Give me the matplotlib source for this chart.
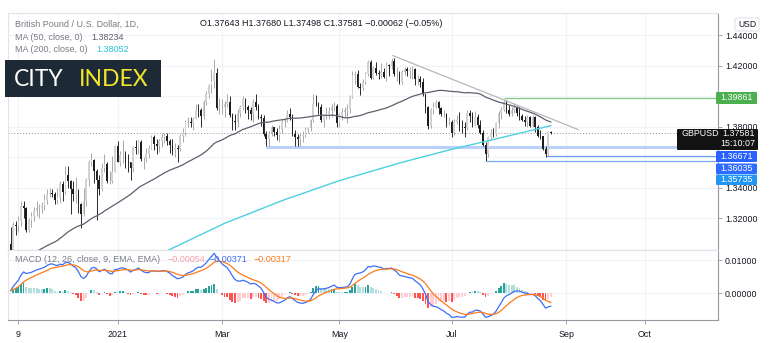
import matplotlib.pyplot as plt
import numpy as np
import pandas as pd
from matplotlib.patches import Rectangle, FancyBboxPatch

plt.rcParams['font.family'] = ['Liberation Sans', 'DejaVu Sans']

# GBP/USD daily candles, 4 Nov 2020 - 24 Aug 2021 (one row per month)
opens = [
    1.3030, 1.2990, 1.3152, 1.3150, 1.3180, 1.3280, 1.3265, 1.3120, 1.3190, 1.3210, 1.3245, 1.3265, 1.3270, 1.3285, 1.3315, 1.3360, 1.3365, 1.3355, 1.3315,
    1.3340, 1.3420, 1.3370, 1.3480, 1.3440, 1.3390, 1.3360, 1.3380, 1.3290, 1.3225, 1.3310, 1.3450, 1.3570, 1.3580, 1.3510, 1.3450, 1.3390, 1.3530, 1.3555, 1.3440, 1.3440, 1.3500,
    1.3670, 1.3570, 1.3610, 1.3610, 1.3570, 1.3565, 1.3525, 1.3665, 1.3660, 1.3700, 1.3585, 1.3590, 1.3620, 1.3660, 1.3730, 1.3685, 1.3675, 1.3705, 1.3730, 1.3735,
    1.3705, 1.3680, 1.3645, 1.3660, 1.3655, 1.3735, 1.3760, 1.3830, 1.3830, 1.3820, 1.3850, 1.3910, 1.3905, 1.3870, 1.3960, 1.4010, 1.4070, 1.4100, 1.4150, 1.3920,
    1.3925, 1.3930, 1.3950, 1.3960, 1.3875, 1.3835, 1.3830, 1.3890, 1.3930, 1.3980, 1.3925, 1.3910, 1.3885, 1.3960, 1.3930, 1.3865, 1.3855, 1.3750, 1.3720, 1.3760, 1.3795, 1.3765, 1.3745,
    1.3785, 1.3830, 1.3835, 1.3880, 1.3865, 1.3750, 1.3730, 1.3715, 1.3740, 1.3745, 1.3780, 1.3790, 1.3840, 1.3950, 1.3945, 1.3930, 1.3840, 1.3875, 1.3880, 1.3900, 1.3930, 1.3935,
    1.3820, 1.3875, 1.3895, 1.3905, 1.3915, 1.3995, 1.4140, 1.4145, 1.4060, 1.4055, 1.4095, 1.4145, 1.4220, 1.4120, 1.4185, 1.4150, 1.4145, 1.4160, 1.4125, 1.4205, 1.4195,
    1.4230, 1.4145, 1.4145, 1.4090, 1.4160, 1.4175, 1.4165, 1.4175, 1.4180, 1.4110, 1.4110, 1.4095, 1.4010, 1.3930, 1.3805, 1.3910, 1.3930, 1.3960, 1.3920, 1.3880, 1.3880, 1.3825,
    1.3830, 1.3760, 1.3830, 1.3845, 1.3800, 1.3795, 1.3790, 1.3890, 1.3870, 1.3810, 1.3860, 1.3810, 1.3760, 1.3680, 1.3620, 1.3730, 1.3760, 1.3750, 1.3820, 1.3890, 1.3910, 1.3960,
    1.3905, 1.3885, 1.3905, 1.3925, 1.3890, 1.3870, 1.3845, 1.3830, 1.3865, 1.3805, 1.3865, 1.3795, 1.3740, 1.3735, 1.3650, 1.3620, 1.37643,
]
highs = [
    1.3140, 1.3176, 1.3178, 1.3210, 1.3312, 1.3310, 1.3275, 1.3203, 1.3240, 1.3275, 1.3310, 1.3290, 1.3305, 1.3360, 1.3390, 1.3398, 1.3388, 1.3370, 1.3399,
    1.3443, 1.3440, 1.3540, 1.3540, 1.3450, 1.3440, 1.3470, 1.3390, 1.3300, 1.3400, 1.3460, 1.3580, 1.3625, 1.3590, 1.3520, 1.3480, 1.3560, 1.3620, 1.3565, 1.3510, 1.3605, 1.3680,
    1.3703, 1.3640, 1.3710, 1.3640, 1.3620, 1.3570, 1.3675, 1.3710, 1.3710, 1.3710, 1.3600, 1.3660, 1.3680, 1.3745, 1.3745, 1.3720, 1.3720, 1.3760, 1.3755, 1.3755,
    1.3715, 1.3715, 1.3695, 1.3680, 1.3750, 1.3790, 1.3840, 1.3860, 1.3865, 1.3860, 1.3950, 1.3950, 1.3920, 1.3975, 1.4035, 1.4080, 1.4180, 1.4241, 1.4185, 1.3990,
    1.3980, 1.3970, 1.4015, 1.4000, 1.3890, 1.3880, 1.3915, 1.3940, 1.4000, 1.3985, 1.3940, 1.3925, 1.3980, 1.4010, 1.3950, 1.3880, 1.3875, 1.3770, 1.3770, 1.3810, 1.3800, 1.3790, 1.3810,
    1.3850, 1.3850, 1.3910, 1.3920, 1.3885, 1.3780, 1.3750, 1.3760, 1.3770, 1.3800, 1.3800, 1.3850, 1.4010, 1.4005, 1.3960, 1.3950, 1.3880, 1.3925, 1.3925, 1.3950, 1.3960, 1.3945,
    1.3890, 1.3920, 1.3925, 1.3950, 1.4005, 1.4165, 1.4165, 1.4170, 1.4085, 1.4110, 1.4160, 1.4235, 1.4235, 1.4200, 1.4220, 1.4170, 1.4215, 1.4185, 1.4220, 1.4210, 1.4250,
    1.4250, 1.4190, 1.4165, 1.4170, 1.4190, 1.4190, 1.4190, 1.4200, 1.4185, 1.4135, 1.4130, 1.4120, 1.4015, 1.3935, 1.3920, 1.3960, 1.3975, 1.3970, 1.3925, 1.3910, 1.3890, 1.3860,
    1.3840, 1.3850, 1.3875, 1.3895, 1.3840, 1.3830, 1.3910, 1.3905, 1.3895, 1.3900, 1.3880, 1.3840, 1.3780, 1.3700, 1.3740, 1.3785, 1.3790, 1.3830, 1.3900, 1.3925, 1.3983, 1.3975,
    1.3940, 1.3925, 1.3955, 1.3935, 1.3930, 1.3880, 1.3870, 1.3875, 1.3870, 1.3875, 1.3870, 1.3810, 1.3775, 1.3740, 1.3675, 1.3770, 1.37680,
]
lows = [
    1.2915, 1.2980, 1.3090, 1.3110, 1.3150, 1.3200, 1.3105, 1.3110, 1.3140, 1.3180, 1.3215, 1.3200, 1.3235, 1.3250, 1.3290, 1.3335, 1.3340, 1.3290, 1.3290,
    1.3300, 1.3310, 1.3360, 1.3400, 1.3225, 1.3310, 1.3300, 1.3230, 1.3135, 1.3210, 1.3280, 1.3410, 1.3540, 1.3430, 1.3188, 1.3350, 1.3375, 1.3500, 1.3430, 1.3420, 1.3430, 1.3500,
    1.3568, 1.3540, 1.3560, 1.3530, 1.3500, 1.3450, 1.3500, 1.3620, 1.3620, 1.3575, 1.3520, 1.3570, 1.3595, 1.3650, 1.3645, 1.3620, 1.3635, 1.3665, 1.3690, 1.3680,
    1.3625, 1.3610, 1.3600, 1.3566, 1.3640, 1.3700, 1.3740, 1.3795, 1.3800, 1.3780, 1.3850, 1.3860, 1.3800, 1.3850, 1.3940, 1.3990, 1.4020, 1.4050, 1.3910, 1.3880,
    1.3880, 1.3860, 1.3925, 1.3860, 1.3775, 1.3780, 1.3800, 1.3860, 1.3910, 1.3890, 1.3850, 1.3845, 1.3830, 1.3905, 1.3850, 1.3805, 1.3740, 1.3670, 1.3670, 1.3740, 1.3740, 1.3710, 1.3700,
    1.3760, 1.3800, 1.3830, 1.3840, 1.3740, 1.3670, 1.3670, 1.3670, 1.3700, 1.3730, 1.3760, 1.3770, 1.3830, 1.3935, 1.3885, 1.3830, 1.3800, 1.3850, 1.3850, 1.3860, 1.3900, 1.3800,
    1.3800, 1.3840, 1.3860, 1.3820, 1.3890, 1.3985, 1.4080, 1.4050, 1.4005, 1.4040, 1.4080, 1.4130, 1.4110, 1.4110, 1.4135, 1.4110, 1.4120, 1.4115, 1.4100, 1.4130, 1.4175,
    1.4130, 1.4100, 1.4080, 1.4080, 1.4140, 1.4130, 1.4120, 1.4110, 1.4075, 1.4070, 1.4060, 1.4000, 1.3890, 1.3785, 1.3790, 1.3880, 1.3920, 1.3880, 1.3870, 1.3860, 1.3800, 1.3810,
    1.3730, 1.3745, 1.3815, 1.3770, 1.3755, 1.3730, 1.3780, 1.3830, 1.3800, 1.3805, 1.3790, 1.3750, 1.3670, 1.3572, 1.3600, 1.3710, 1.3730, 1.3740, 1.3790, 1.3850, 1.3900, 1.3890,
    1.3870, 1.3870, 1.3890, 1.3870, 1.3840, 1.3835, 1.3805, 1.3800, 1.3800, 1.3795, 1.3765, 1.3730, 1.3720, 1.3645, 1.3603, 1.3610, 1.37498,
]
closes = [
    1.2990, 1.3152, 1.3150, 1.3180, 1.3280, 1.3265, 1.3120, 1.3190, 1.3210, 1.3245, 1.3265, 1.3270, 1.3285, 1.3315, 1.3360, 1.3365, 1.3355, 1.3315, 1.3340,
    1.3420, 1.3370, 1.3480, 1.3440, 1.3390, 1.3360, 1.3380, 1.3290, 1.3225, 1.3310, 1.3450, 1.3570, 1.3580, 1.3510, 1.3450, 1.3390, 1.3530, 1.3555, 1.3440, 1.3440, 1.3500, 1.3670,
    1.3570, 1.3610, 1.3610, 1.3570, 1.3565, 1.3525, 1.3665, 1.3660, 1.3700, 1.3585, 1.3590, 1.3620, 1.3660, 1.3730, 1.3685, 1.3675, 1.3705, 1.3730, 1.3735, 1.3705,
    1.3680, 1.3645, 1.3660, 1.3655, 1.3735, 1.3760, 1.3830, 1.3830, 1.3820, 1.3850, 1.3910, 1.3905, 1.3870, 1.3960, 1.4010, 1.4070, 1.4100, 1.4150, 1.3920, 1.3925,
    1.3930, 1.3950, 1.3960, 1.3875, 1.3835, 1.3830, 1.3890, 1.3930, 1.3980, 1.3925, 1.3910, 1.3885, 1.3960, 1.3930, 1.3865, 1.3855, 1.3750, 1.3720, 1.3760, 1.3795, 1.3765, 1.3745, 1.3785,
    1.3830, 1.3835, 1.3880, 1.3865, 1.3750, 1.3730, 1.3715, 1.3740, 1.3745, 1.3780, 1.3790, 1.3840, 1.3950, 1.3945, 1.3930, 1.3840, 1.3875, 1.3880, 1.3900, 1.3930, 1.3935, 1.3820,
    1.3875, 1.3895, 1.3905, 1.3915, 1.3995, 1.4140, 1.4145, 1.4060, 1.4055, 1.4095, 1.4145, 1.4220, 1.4120, 1.4185, 1.4150, 1.4145, 1.4160, 1.4125, 1.4205, 1.4195, 1.4230,
    1.4145, 1.4145, 1.4090, 1.4160, 1.4175, 1.4165, 1.4175, 1.4180, 1.4110, 1.4110, 1.4095, 1.4010, 1.3930, 1.3805, 1.3910, 1.3930, 1.3960, 1.3920, 1.3880, 1.3880, 1.3825, 1.3830,
    1.3760, 1.3830, 1.3845, 1.3800, 1.3795, 1.3790, 1.3890, 1.3870, 1.3810, 1.3860, 1.3810, 1.3760, 1.3680, 1.3620, 1.3730, 1.3760, 1.3750, 1.3820, 1.3890, 1.3910, 1.3960, 1.3905,
    1.3885, 1.3905, 1.3925, 1.3890, 1.3870, 1.3845, 1.3830, 1.3865, 1.3805, 1.3865, 1.3795, 1.3740, 1.3735, 1.3650, 1.3620, 1.37643, 1.37581,
]

# closes from 24 Aug to 3 Nov 2020, only used to warm up MA(50) and the MACD
warmup_closes = [
    1.3090, 1.3160, 1.3210, 1.3225, 1.3350, 1.3370,
    1.3385, 1.3315, 1.3265, 1.3280, 1.3160, 1.2985, 1.2995, 1.2795, 1.2795, 1.2845, 1.2900,
    1.2935, 1.2960, 1.2920, 1.2815, 1.2735, 1.2735, 1.2750, 1.2745, 1.2830, 1.2835, 1.2920,
    1.2880, 1.2945, 1.2970, 1.2880, 1.2940, 1.2945, 1.3050, 1.3045, 1.2925, 1.3030, 1.2915,
    1.2915, 1.2950, 1.2945, 1.3125, 1.3080, 1.3040, 1.3030, 1.3050, 1.2970, 1.2930, 1.2945,
    1.2935, 1.3030,
]

# MA(200) at a few sessions (bar number, value)
ma200_bar = [60, 82, 105, 126, 150, 169, 190, 207]
ma200_val = [1.2985, 1.3165, 1.3320, 1.3445, 1.3565, 1.3650, 1.3735, 1.38052]

# drawn levels: (value, first bar)
support_levels = [(1.36671, 98), (1.36035, 205), (1.35735, 182)]
resistance_level = (1.39861, 189)
trend_bars = [146.5, 217.5]
trend_vals = [1.4265, 1.3780]

# date axis: bar number of each label (the last two fall in the empty space on the right)
tick_bars = [3, 41, 81, 126, 169, 213, 243]
tick_labels = ['9', '2021', 'Mar', 'May', 'Jul', 'Sep', 'Oct']
price_ticks = [1.32, 1.34, 1.36, 1.38, 1.40, 1.42, 1.44]
hidden_price_labels = [1.36, 1.40]  # sit under the level tags

o = np.array(opens)
h = np.array(highs)
l = np.array(lows)
c = np.array(closes)
n = len(c)
bars = np.arange(n)

full = pd.Series(warmup_closes + closes)
ma50 = full.rolling(50).mean().to_numpy()[len(warmup_closes):]
ema12 = full.ewm(span=12, adjust=False).mean()
ema26 = full.ewm(span=26, adjust=False).mean()
macd_full = ema12 - ema26
signal_full = macd_full.ewm(span=9, adjust=False).mean()
macd = macd_full.to_numpy()[len(warmup_closes):]
signal = signal_full.to_numpy()[len(warmup_closes):]
hist = macd - signal

W, H = 771, 343
fig = plt.figure(figsize=(W / 100, H / 100), dpi=100)
fig.patch.set_facecolor('white')


def fx(x):
    return x / W


def fy(y):
    return 1 - y / H


px0, step = 10.5, 2.61  # pixel of bar 0, pixels per bar
x_lo = (8 - px0) / step
x_hi = (718 - px0) / step

ax = fig.add_axes([fx(8), fy(250), fx(718) - fx(8), (250 - 13) / H])
mx = fig.add_axes([fx(8), fy(320), fx(718) - fx(8), (320 - 250) / H])

grid_c = '#f0f3fa'
for a in (ax, mx):
    a.set_xlim(x_lo, x_hi)
    a.set_facecolor('white')
    for xt in tick_bars:
        a.axvline(xt, color=grid_c, lw=0.8, zorder=0)
    a.spines['left'].set_color('#e0e3eb')
    a.spines['top'].set_color('#e0e3eb')
    a.spines['right'].set_color('#9598a1')
    a.spines['bottom'].set_color('#9598a1')
    for s in a.spines.values():
        s.set_linewidth(0.8)
    a.yaxis.tick_right()
    a.tick_params(axis='y', length=3, width=0.6, color='#9598a1', labelsize=6.4,
                  labelcolor='#131722', pad=2)

# price pane
ax.set_ylim(1.44 - (250 - 35) / 1525, 1.44 + (35 - 13) / 1525)
for p in price_ticks:
    ax.axhline(p, color=grid_c, lw=0.8, zorder=0)
ax.set_yticks(price_ticks)
ax.set_yticklabels(['' if p in hidden_price_labels else f'{p:.5f}' for p in price_ticks])
ax.set_xticks([])

up = c >= o
body_lo = np.minimum(o, c)
body_h = np.maximum(np.abs(c - o), 0.00015)
ax.vlines(bars[up], l[up], h[up], color='#a9a9a9', lw=0.7, zorder=3)
ax.vlines(bars[~up], l[~up], h[~up], color='#2a2a2a', lw=0.7, zorder=3)
ax.bar(bars, body_h, bottom=body_lo, width=0.62,
       color=np.where(up, '#d2d2d2', '#1c1c1c'), lw=0, zorder=4)

ax.plot(bars, ma50, color='#5d606b', lw=0.9, zorder=5)
ax.plot(ma200_bar, ma200_val, color='#4dd0e1', lw=1.0, zorder=5)
ax.plot(trend_bars, trend_vals, color='#b7b7b7', lw=0.9, zorder=5)

ax.hlines(resistance_level[0], resistance_level[1], x_hi, color='#81c784', lw=0.9, zorder=2)
sup_styles = [('#b9d0fb', 2.2), ('#6f9cf6', 0.9), ('#7aa8f5', 0.9)]
for (lvl, start), (col, lw) in zip(support_levels, sup_styles):
    ax.hlines(lvl, start, x_hi, color=col, lw=lw, zorder=2)
ax.axhline(closes[-1], color='#8a8e97', lw=0.7, ls=(0, (1, 2)), zorder=2)

# MACD pane
mx.set_ylim(-(320 - 293.3) / 3330, 0.01 + (260 - 250) / 3330)
mx.axhline(0.0, color=grid_c, lw=0.8, zorder=0)
mx.axhline(0.01, color=grid_c, lw=0.8, zorder=0)
mx.set_yticks([0.0, 0.01])
mx.set_yticklabels(['0.00000', '0.01000'])
prev = np.concatenate([[hist[0]], hist[:-1]])
hist_col = np.where(hist >= 0,
                    np.where(hist >= prev, '#26a69a', '#b2dfdb'),
                    np.where(hist < prev, '#ff5252', '#ffcdd2'))
mx.bar(bars, hist, width=0.72, color=hist_col, lw=0, zorder=2)
mx.plot(bars, macd, color='#3d6ef5', lw=0.9, zorder=3)
mx.plot(bars, signal, color='#ff7a1a', lw=0.9, zorder=3)
mx.set_xticks(tick_bars)
mx.set_xticklabels(tick_labels)
mx.tick_params(axis='x', length=3, width=0.6, color='#9598a1', labelsize=6.4,
               labelcolor='#131722', pad=4)

# legend lines
grey = '#787b86'
dark = '#131722'
fs = 6.5
fig.text(fx(15), fy(24), 'British Pound / U.S. Dollar, 1D,', fontsize=fs, color=grey, va='center')
fig.text(fx(200), fy(24), 'O1.37643 H1.37680 L1.37498 C1.37581 \u22120.00062 (\u22120.05%)',
         fontsize=fs, color=dark, va='center')
fig.text(fx(15), fy(37), 'MA (50, close, 0)', fontsize=fs, color=grey, va='center')
fig.text(fx(91), fy(37), '1.38234', fontsize=fs, color='#5d606b', va='center')
fig.text(fx(15), fy(49), 'MA (200, close, 0)', fontsize=fs, color=grey, va='center')
fig.text(fx(96), fy(49), '1.38052', fontsize=fs, color='#26c6da', va='center')

fig.text(fx(15), fy(260), 'MACD (12, 26, close, 9, EMA, EMA)', fontsize=fs, color=grey, va='center')
fig.text(fx(167), fy(260), '\u22120.00054', fontsize=fs, color='#f7a1a8', va='center')
fig.text(fx(210), fy(260), '\u22120.00371', fontsize=fs, color='#3d6ef5', va='center')
fig.text(fx(253), fy(260), '\u22120.00317', fontsize=fs, color='#ff7a1a', va='center')

# logo
fig.patches.append(Rectangle((fx(5), fy(97)), (161 - 5) / W, (97 - 60) / H,
                             transform=fig.transFigure, facecolor='#1d2a36', edgecolor='none', zorder=10))
fig.text(fx(14), fy(79), 'CITY', fontsize=16.5, color='white',
         family=['Lato', 'DejaVu Sans'], va='center', zorder=11)
fig.text(fx(79), fy(79), 'INDEX', fontsize=16.5, color='#f2e52b',
         family=['Lato', 'DejaVu Sans'], va='center', zorder=11)


# right-axis labels
def tag(x0, x1, y0, y1, color, radius=0.002):
    fig.patches.append(FancyBboxPatch((fx(x0), fy(y1)), (x1 - x0) / W, (y1 - y0) / H,
                                      boxstyle=f'round,pad=0,rounding_size={radius}',
                                      transform=fig.transFigure, facecolor=color,
                                      edgecolor='none', zorder=10))


tag(716, 757, 92, 104, '#4caf50')
fig.text(fx(736.5), fy(98), f'{resistance_level[0]:.5f}', fontsize=6.4, color='white',
         ha='center', va='center', zorder=11)

tag(677, 758, 129, 150, '#131313')
fig.text(fx(681), fy(134), 'GBPUSD', fontsize=6.4, color='white', va='center', zorder=11)
fig.text(fx(755), fy(134), f'{closes[-1]:.5f}', fontsize=6.4, color='white', ha='right', va='center', zorder=11)
fig.text(fx(755), fy(144), '15:10:07', fontsize=6.4, color='white', ha='right', va='center', zorder=11)

tag_rows = [(151, 162, '#2962ff'), (163.5, 174, '#2f6bff'), (174.5, 185, '#2196f3')]
for (lvl, _), (y0, y1, col) in zip(support_levels, tag_rows):
    tag(716, 757, y0, y1, col)
    fig.text(fx(736.5), fy((y0 + y1) / 2), f'{lvl:.5f}', fontsize=6.4, color='white',
             ha='center', va='center', zorder=11)

fig.patches.append(FancyBboxPatch((fx(735), fy(31)), 24 / W, 13 / H,
                                  boxstyle='round,pad=0,rounding_size=0.004',
                                  transform=fig.transFigure, facecolor='white',
                                  edgecolor='#e0e3eb', lw=0.8, zorder=10))
fig.text(fx(747), fy(24.5), 'USD', fontsize=6.2, color=dark, ha='center', va='center', zorder=11)

fig.savefig('out.png', dpi=100)
